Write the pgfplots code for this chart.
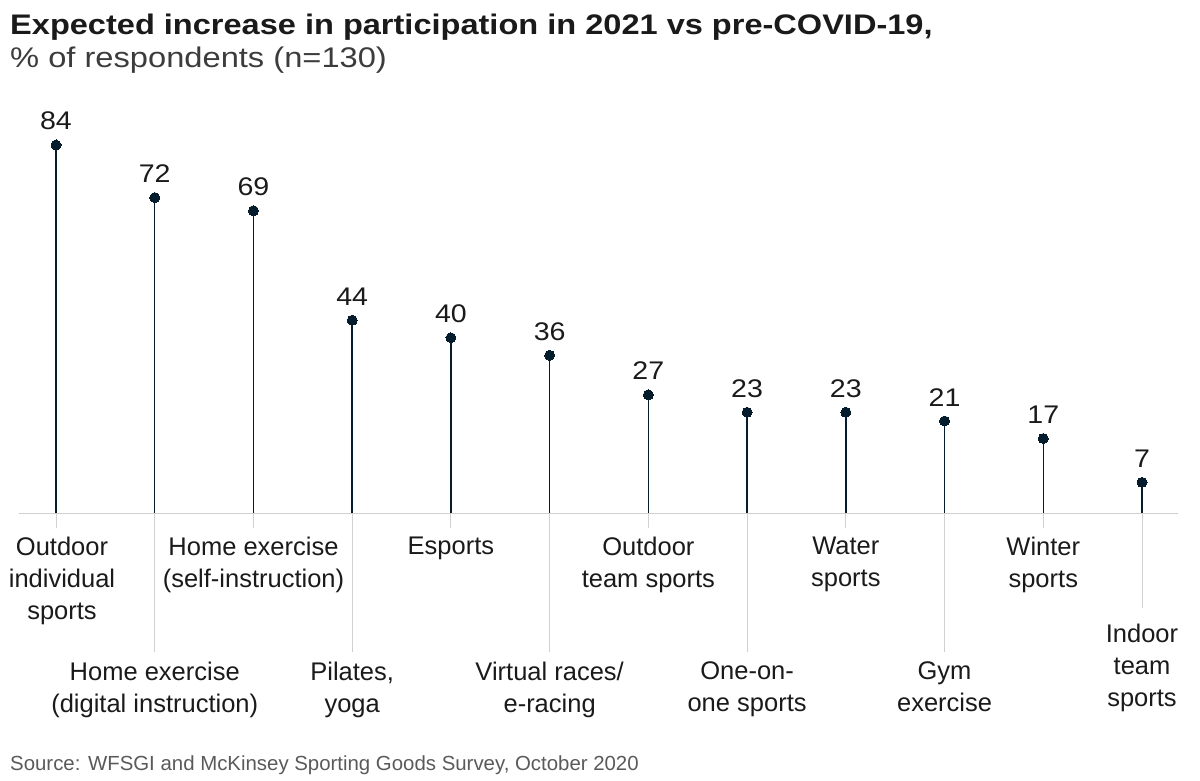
\documentclass[border=0pt]{standalone}
\usepackage{fontspec}
\setmainfont{Liberation Sans}
\newfontfamily\titlefont[FakeStretch=1.15]{Liberation Sans}
\newfontfamily\numfont[FakeStretch=1.12]{Liberation Sans}
\usepackage{pgfplots}
\pgfplotsset{compat=1.18}
\usepackage{pgfplotstable}
\definecolor{navy}{HTML}{051C2C}
\definecolor{linegray}{HTML}{D0D0D0}
\definecolor{txt}{HTML}{1A1A1A}
\definecolor{srcgray}{HTML}{5A5A5A}
\pgfplotstableread{
x y
0 84
1 72
2 69
3 44
4 40
5 36
6 27
7 23
8 23
9 21
10 17
11 7
}\datatable
\begin{document}
\begin{tikzpicture}[x=1pt,y=1pt,
  lab/.style={align=center, inner sep=0pt, text=txt, font=\fontsize{25.5}{32}\selectfont}]
\useasboundingbox (0,0) rectangle (1200,780);
\node[anchor=base west, inner sep=0pt, text=txt, font=\titlefont\bfseries\fontsize{28.3}{30}\selectfont] at (10,745) {Expected increase in participation in 2021 vs pre-COVID-19,};
\node[anchor=base west, inner sep=0pt, text=txt!85, font=\titlefont\fontsize{28.4}{32}\selectfont] at (10,712) {\% of respondents (n=130)};
\node[anchor=base west, inner sep=0pt, text=srcgray, font=\fontsize{20.4}{22}\selectfont] at (10,10) {Source: WFSGI and McKinsey Sporting Goods Survey, October 2020};
\begin{axis}[at={(19pt,267pt)}, anchor=south west, scale only axis,
  width=1159pt, height=394.29pt,
  xmin=-0.3748, xmax=11.3646, ymin=0, ymax=90,
  hide axis, clip=false]
\draw[linegray, line width=1pt] (axis cs:-0.3748,0) -- (axis cs:11.3646,0);
% short ticks for upper labels
\foreach \i in {0,2,4,6,8,10} {
  \edef\temp{\noexpand\draw[linegray, line width=1pt] (axis cs:\i,0) -- ([yshift=-15pt]axis cs:\i,0);}
  \temp
}
\foreach \i in {1,3,5,7,9} {
  \edef\temp{\noexpand\draw[linegray, line width=1pt] (axis cs:\i,0) -- ([yshift=-139pt]axis cs:\i,0);}
  \temp
}
\draw[linegray, line width=1pt] (axis cs:11,0) -- ([yshift=-95pt]axis cs:11,0);
\addplot[navy, line width=1.4pt, ycomb, mark=*, mark size=5pt,
  mark options={fill=navy, draw=navy, line width=0pt},
  nodes near coords, point meta=y,
  every node near coord/.append style={anchor=base, yshift=15pt, inner sep=0pt, text=txt,
    font=\numfont\fontsize{25.5}{30}\selectfont, /pgf/number format/assume math mode=true}]
  table[x=x,y=y]{\datatable};
% upper labels
\node[lab, anchor=north] at ([xshift=6pt,yshift=-23.5pt]axis cs:0,0) {Outdoor\\individual\\sports};
\node[lab, anchor=north] at ([yshift=-23.5pt]axis cs:2,0) {Home exercise\\(self-instruction)};
\node[lab, anchor=north] at ([yshift=-23.5pt]axis cs:4,0) {Esports};
\node[lab, anchor=north] at ([yshift=-23.5pt]axis cs:6,0) {Outdoor\\team sports};
\node[lab, anchor=north] at ([yshift=-23.5pt]axis cs:8,0) {Water\\sports};
\node[lab, anchor=north] at ([yshift=-23.5pt]axis cs:10,0) {Winter\\sports};
% lower labels
\node[lab, anchor=north] at ([yshift=-148.5pt]axis cs:1,0) {Home exercise\\(digital instruction)};
\node[lab, anchor=north] at ([yshift=-148.5pt]axis cs:3,0) {Pilates,\\yoga};
\node[lab, anchor=north] at ([yshift=-148.5pt]axis cs:5,0) {Virtual races/\\e-racing};
\node[lab, anchor=north] at ([yshift=-148.5pt]axis cs:7,0) {One-on-\\one sports};
\node[lab, anchor=north] at ([yshift=-148.5pt]axis cs:9,0) {Gym\\exercise};
\node[lab, anchor=north] at ([yshift=-110.5pt]axis cs:11,0) {Indoor\\team\\sports};
\end{axis}
\end{tikzpicture}
\end{document}
